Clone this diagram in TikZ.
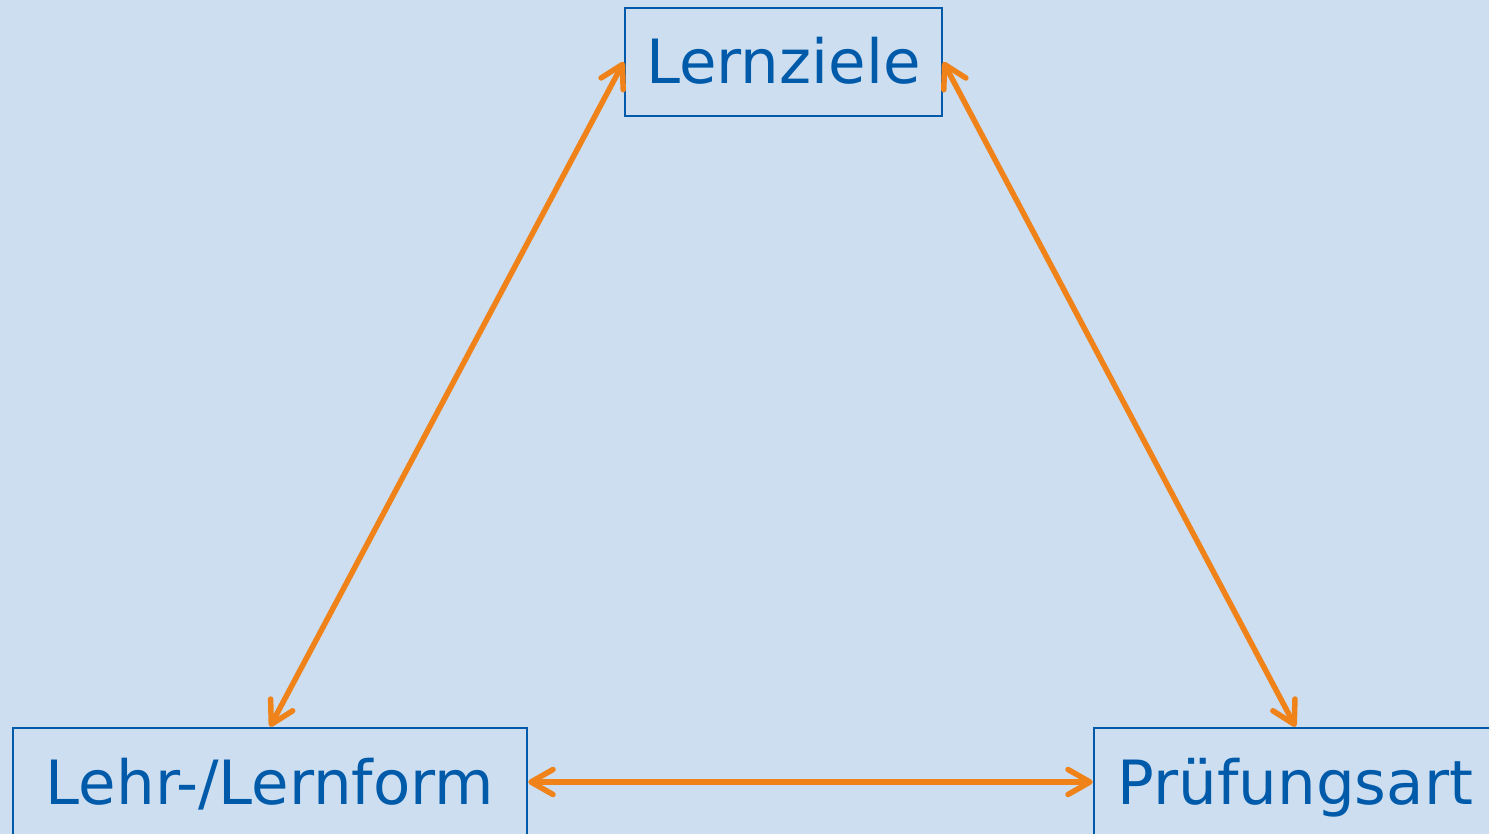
\documentclass[tikz,border=0pt]{standalone}
\usepackage{fontspec}
\setmainfont{DejaVu Sans}
\usetikzlibrary{arrows.meta}
\definecolor{bg}{HTML}{CCDEF0}
\definecolor{bblue}{HTML}{005AAA}
\definecolor{orng}{HTML}{F0821A}
\begin{document}
\begin{tikzpicture}[x=1pt,y=-1pt,
  box/.style={draw=bblue, line width=2.5pt, text=bblue,
    font=\fontsize{61}{70}\selectfont, inner sep=0pt,
    text height=44pt, text depth=0pt, minimum height=108pt},
  tip/.tip={Straight Barb[length=22pt,width=25pt,round]},
  link/.style={draw=orng, line width=5.5pt, line cap=round, tip-tip}]
\fill[bg] (0,0) rectangle (1489,834);
\useasboundingbox (0,0) rectangle (1489,834);
\node[box, minimum width=317pt] (lz) at (783.5,62) {Lernziele};
\node[box, minimum width=514pt] (lf) at (270,782) {Lehr-/Lernform};
\node[box, minimum width=403pt] (pa) at (1295.5,782) {Prüfungsart};
\draw[link] (lf.north) -- (lz.west);
\draw[link] (lz.east) -- (pa.north);
\draw[link] (lf.east) -- (pa.west);
\end{tikzpicture}
\end{document}
